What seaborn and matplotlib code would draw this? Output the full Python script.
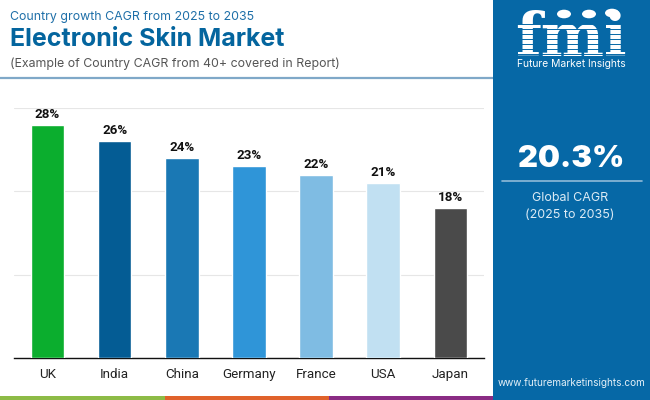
import matplotlib
matplotlib.use("Agg")
import matplotlib.pyplot as plt
from matplotlib.patches import Rectangle, Circle
import seaborn as sns
import pandas as pd

countries = ["UK", "India", "China", "Germany", "France", "USA", "Japan"]
cagr = [28, 26, 24, 23, 22, 21, 18]
bar_colors = ["#0BAE2E", "#045C94", "#1A78B4", "#2F95D8", "#7FBCE3", "#C1E0F2", "#4A4A4A"]
y_ticks = [0, 10, 20, 30]
strip_colors = ["#8DBB46", "#E0622B", "#8A2C84"]

W, H = 650, 400
sns.set_theme(style="white")
plt.rcParams["font.family"] = ["Inter", "DejaVu Sans"]
fig = plt.figure(figsize=(6.5, 4), dpi=100, facecolor="white")

def fx(x): return x / W
def fy(y): return 1 - y / H

ax = fig.add_axes([fx(14), fy(358), 470 / W, 250 / H])
df = pd.DataFrame({"country": countries, "cagr": cagr})
sns.barplot(data=df, x="country", y="cagr", hue="country", palette=bar_colors,
            legend=False, width=0.5, saturation=1, ax=ax, zorder=3)
ax.set_ylim(0, 30)
ax.set_xlim(-0.5, 6.5)
ax.set_yticks(y_ticks)
ax.set_yticklabels([])
ax.set_xlabel("")
ax.set_ylabel("")
ax.grid(axis="y", color="#E6E6E6", lw=0.8, zorder=0)
ax.tick_params(axis="both", length=0)
ax.tick_params(axis="x", pad=7.5)
for lab in ax.get_xticklabels():
    lab.set_family(["Roboto", "DejaVu Sans"])
    lab.set_fontsize(9.6)
    lab.set_color("#222222")
for s in ["top", "left", "right"]:
    ax.spines[s].set_visible(False)
ax.spines["bottom"].set_color("#111111")
ax.spines["bottom"].set_linewidth(1.0)
for i, v in enumerate(cagr):
    ax.annotate(f"{v}%", (i, v), xytext=(0, 3), textcoords="offset points",
                ha="center", va="bottom", fontsize=9.6, fontweight="bold",
                color="#111111", family=["Roboto", "DejaVu Sans"])

# Header
fig.text(fx(10), fy(17), "Country growth CAGR from 2025 to 2035", fontsize=8.9,
         color="#1E6FA8", va="center", ha="left")
fig.text(fx(10), fy(39), "Electronic Skin Market", fontsize=18, fontweight="bold",
         color="#04659E", va="center", ha="left")
fig.text(fx(10), fy(63.5), "(Example of Country CAGR from 40+ covered in Report)", fontsize=8.9,
         color="#555555", va="center", ha="left")
fig.add_artist(plt.Line2D([0, fx(493)], [fy(78), fy(78)], color="#7FA8C8", lw=1.6))

# Bottom strip
for i, c in enumerate(strip_colors):
    fig.add_artist(Rectangle((fx(i * 164.5), 0), 164.5 / W, 4.5 / H, color=c, lw=0,
                             transform=fig.transFigure))

# Side panel
panel = "#0668A6"
fig.add_artist(Rectangle((fx(493), 0), 157 / W, 1, color=panel, lw=0, transform=fig.transFigure, zorder=2))
fig.text(fx(571), fy(56), "fmi", fontsize=43, fontweight="bold", family="DejaVu Serif",
         color="white", ha="center", va="baseline", zorder=3)
for y in range(24, 56, 5):
    fig.add_artist(plt.Line2D([fx(515), fx(630)], [fy(y), fy(y)], color=panel, lw=0.7, zorder=4))
for cx, cy in [(564, 14), (589, 14), (612, 13)]:
    fig.add_artist(Circle((fx(cx), fy(cy)), 7 / W, color="white", lw=0,
                          transform=fig.transFigure, zorder=5))
fig.text(fx(571), fy(64), "Future Market Insights", fontsize=7.4, color="white",
         ha="center", va="center", zorder=5)
fig.text(fx(571), fy(159), "20.3%", fontsize=22.3, fontweight="black", color="white",
         ha="center", va="center", zorder=5)
fig.add_artist(plt.Line2D([fx(502), fx(642)], [fy(181), fy(181)], color="#8FBAD8", lw=1.2, zorder=5))
fig.text(fx(570), fy(198), "Global CAGR", fontsize=9, color="#DCEBF5", ha="center", va="center", zorder=5)
fig.text(fx(570), fy(214.5), "(2025 to 2035)", fontsize=9, color="#DCEBF5", ha="center", va="center", zorder=5)
fig.text(fx(572), fy(383), "www.futuremarketinsights.com", fontsize=7.2, color="#E4F0F8",
         ha="center", va="center", zorder=5)

fig.savefig("out.png", dpi=100)
